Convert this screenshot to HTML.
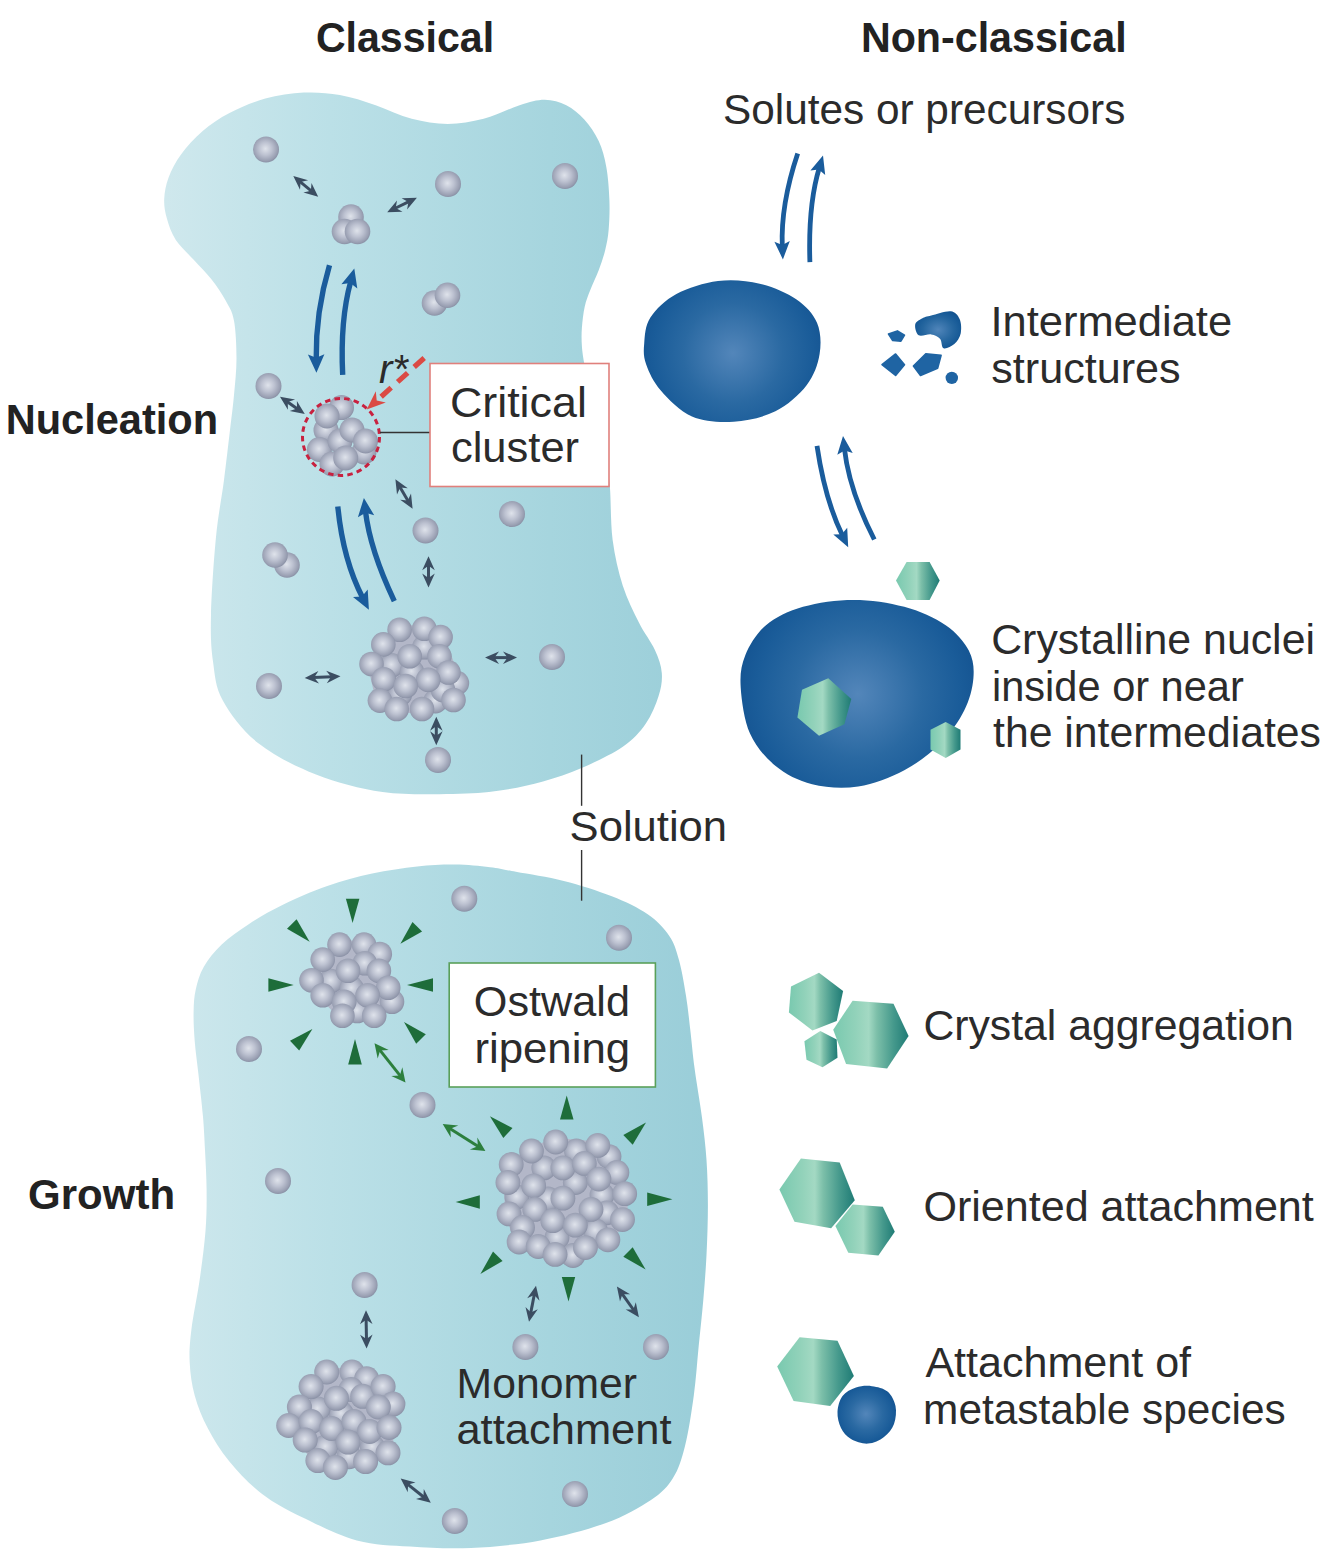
<!DOCTYPE html>
<html><head><meta charset="utf-8"><title>Nucleation and growth</title>
<style>
html,body{margin:0;padding:0;background:#fff;}
body{width:1335px;height:1564px;overflow:hidden;}
svg{display:block;}
svg text{font-family:"Liberation Sans",sans-serif;fill:#2b2b2b;}
svg text[font-weight]{fill:#222;}
</style></head><body>
<svg width="1335" height="1564" viewBox="0 0 1335 1564">
<defs>
<linearGradient id="sol" gradientUnits="userSpaceOnUse" x1="165" y1="0" x2="715" y2="0">
<stop offset="0" stop-color="#cfe8ed"/><stop offset="0.3" stop-color="#bbe0e7"/><stop offset="0.7" stop-color="#a6d5de"/><stop offset="1" stop-color="#99cdd8"/></linearGradient>
<radialGradient id="sp" cx="0.48" cy="0.47" r="0.55">
<stop offset="0" stop-color="#dfe3eb"/><stop offset="0.45" stop-color="#bdc2d1"/><stop offset="0.85" stop-color="#999fb2"/><stop offset="1" stop-color="#858ca1"/></radialGradient>
<radialGradient id="bl" cx="0.5" cy="0.5" r="0.6">
<stop offset="0" stop-color="#5085ba"/><stop offset="0.55" stop-color="#25669f"/><stop offset="0.8" stop-color="#175a97"/><stop offset="1" stop-color="#12508c"/></radialGradient>
<radialGradient id="bl1" gradientUnits="userSpaceOnUse" cx="733" cy="353" r="100"><stop offset="0" stop-color="#5386ba"/><stop offset="0.5" stop-color="#2a69a2"/><stop offset="0.8" stop-color="#1a5c99"/><stop offset="1" stop-color="#135290"/></radialGradient>
<radialGradient id="bl2" gradientUnits="userSpaceOnUse" cx="858" cy="694" r="128"><stop offset="0" stop-color="#5386ba"/><stop offset="0.5" stop-color="#2a69a2"/><stop offset="0.8" stop-color="#1a5c99"/><stop offset="1" stop-color="#135290"/></radialGradient>
<radialGradient id="bl3" gradientUnits="userSpaceOnUse" cx="866" cy="1414" r="33"><stop offset="0" stop-color="#5386ba"/><stop offset="0.5" stop-color="#2a69a2"/><stop offset="0.8" stop-color="#1a5c99"/><stop offset="1" stop-color="#135290"/></radialGradient>
<linearGradient id="hx" x1="0" y1="0" x2="1" y2="0">
<stop offset="0" stop-color="#79c9af"/><stop offset="0.3" stop-color="#92d2ba"/><stop offset="0.47" stop-color="#a3d9c3"/><stop offset="0.58" stop-color="#7cbfa9"/><stop offset="0.8" stop-color="#45998c"/><stop offset="1" stop-color="#1f7b75"/></linearGradient>
</defs>
<path d="M168.6 177.4 C171.4 169.9 175.5 161.9 181.2 154.2 C186.9 146.4 194.6 137.8 202.7 130.9 C210.8 124.0 219.1 118.4 229.5 113.0 C239.9 107.6 252.9 102.0 265.3 98.6 C277.7 95.2 291.4 93.2 303.8 92.6 C316.2 92.0 327.8 93.0 339.8 95.1 C351.8 97.2 363.7 101.2 375.7 105.2 C387.7 109.2 399.7 115.7 411.7 118.8 C423.7 121.9 435.7 123.9 447.7 123.9 C459.7 123.9 471.6 121.9 483.6 118.8 C495.6 115.7 509.4 108.4 519.6 105.2 C529.8 102.0 536.9 99.8 544.7 99.8 C552.5 99.8 559.7 101.9 566.3 105.2 C572.9 108.5 578.9 113.6 584.3 119.6 C589.7 125.6 595.0 133.2 598.7 141.1 C602.4 149.0 604.5 157.2 606.3 167.0 C608.1 176.8 609.0 189.6 609.4 200.0 C609.8 210.4 609.4 220.9 608.7 229.3 C608.0 237.7 606.8 243.6 605.1 250.4 C603.5 257.2 601.2 263.5 598.8 270.1 C596.3 276.7 592.8 283.7 590.4 289.8 C588.0 295.9 586.1 300.4 584.7 306.7 C583.3 313.0 582.4 321.2 581.9 327.8 C581.4 334.4 581.5 339.9 581.9 346.1 C582.3 352.3 583.1 356.9 584.5 365.0 C585.9 373.1 587.8 384.2 590.0 395.0 C592.2 405.8 595.3 418.8 598.0 430.0 C600.7 441.2 604.0 452.5 606.0 462.0 C608.0 471.5 608.8 474.0 609.9 487.0 C611.0 500.0 610.5 523.3 612.6 539.8 C614.8 556.2 618.4 571.9 622.8 585.7 C627.2 599.5 633.5 611.8 638.9 622.5 C644.2 633.2 651.1 641.6 654.9 650.0 C658.7 658.4 661.2 665.3 661.8 673.0 C662.4 680.7 661.3 687.5 658.6 696.0 C655.9 704.5 651.7 715.2 645.7 723.7 C639.7 732.2 633.5 739.3 622.8 746.7 C612.1 754.1 594.9 762.2 581.6 768.0 C568.3 773.8 556.6 777.7 543.0 781.5 C529.4 785.3 515.0 788.5 500.0 790.6 C484.9 792.7 472.3 793.8 452.7 794.0 C433.1 794.2 405.4 795.2 382.6 792.0 C359.8 788.8 336.8 782.7 316.0 774.5 C295.2 766.3 273.5 755.3 258.0 743.0 C242.5 730.7 230.3 714.1 222.8 700.5 C215.3 686.9 215.0 675.8 213.0 661.5 C211.0 647.2 210.5 635.8 211.0 615.0 C211.5 594.2 213.8 559.5 216.0 537.0 C218.2 514.5 221.7 497.8 224.0 480.0 C226.3 462.2 228.3 444.2 230.0 430.0 C231.7 415.8 232.9 406.9 234.0 395.0 C235.1 383.1 236.5 370.8 236.5 358.4 C236.5 346.0 235.8 330.3 234.0 320.7 C232.2 311.1 229.6 307.9 225.9 301.0 C222.2 294.1 217.0 286.4 211.6 279.5 C206.2 272.6 199.7 266.4 193.7 259.8 C187.7 253.2 180.3 246.9 175.8 240.0 C171.3 233.1 168.8 225.4 166.9 218.6 C165.0 211.8 163.9 205.8 164.2 198.9 C164.5 192.0 165.8 184.9 168.6 177.4Z" fill="url(#sol)"/>
<path d="M195.8 989.3 C197.5 981.8 199.4 974.4 203.7 966.9 C208.0 959.4 214.2 951.5 221.7 944.4 C229.2 937.3 238.6 930.8 248.7 924.2 C258.8 917.6 269.3 911.4 282.4 905.0 C295.5 898.6 312.3 891.2 327.3 886.0 C342.3 880.8 357.2 876.9 372.2 873.6 C387.2 870.4 403.4 868.0 417.2 866.5 C431.0 865.0 442.9 864.5 455.0 864.6 C467.1 864.7 479.9 866.0 490.0 867.2 C500.1 868.4 503.6 869.5 515.9 871.8 C528.2 874.1 547.8 876.9 563.8 881.0 C579.8 885.1 597.8 890.8 611.8 896.3 C625.8 901.8 638.1 907.7 647.7 914.3 C657.3 920.9 664.1 928.3 669.3 935.9 C674.5 943.5 676.1 949.8 678.9 959.8 C681.7 969.8 684.1 983.8 686.0 995.8 C687.9 1007.8 689.1 1019.8 690.5 1031.8 C691.9 1043.8 692.6 1053.4 694.5 1067.7 C696.4 1082.0 700.0 1102.4 702.0 1117.8 C704.0 1133.2 705.5 1145.5 706.5 1160.0 C707.5 1174.5 707.9 1189.2 707.9 1205.0 C707.9 1220.8 707.3 1239.2 706.5 1255.0 C705.7 1270.8 704.6 1284.8 703.3 1300.0 C702.0 1315.2 700.3 1330.1 698.7 1346.0 C697.1 1361.9 696.1 1378.7 693.8 1395.4 C691.5 1412.1 688.5 1432.2 685.0 1446.0 C681.5 1459.8 678.7 1469.0 673.0 1478.0 C667.3 1487.0 662.2 1492.5 651.0 1500.0 C639.8 1507.5 624.4 1516.3 606.0 1523.0 C587.6 1529.7 562.9 1536.2 540.4 1540.4 C517.9 1544.6 492.7 1547.0 471.0 1548.0 C449.3 1549.0 429.0 1547.8 410.0 1546.5 C391.0 1545.2 374.9 1545.3 356.8 1540.4 C338.7 1535.5 317.4 1524.7 301.6 1517.0 C285.8 1509.3 274.2 1503.3 262.1 1494.0 C250.0 1484.7 238.2 1472.2 229.2 1461.2 C220.1 1450.2 213.6 1439.3 207.8 1428.3 C202.1 1417.3 197.7 1406.4 194.7 1395.4 C191.7 1384.4 190.2 1373.5 189.7 1362.5 C189.1 1351.5 189.8 1343.3 191.4 1329.6 C193.1 1315.9 197.2 1296.8 199.6 1280.3 C201.9 1263.8 204.3 1246.0 205.5 1230.9 C206.7 1215.9 206.7 1203.5 206.6 1190.0 C206.5 1176.5 205.6 1162.4 205.0 1150.0 C204.4 1137.6 204.0 1128.3 202.9 1115.8 C201.8 1103.2 199.9 1087.2 198.5 1074.7 C197.1 1062.2 195.5 1051.5 194.7 1041.0 C193.9 1030.5 193.4 1020.4 193.6 1011.8 C193.8 1003.2 194.1 996.8 195.8 989.3Z" fill="url(#sol)"/>
<circle cx="266.0" cy="149.5" r="13.0" fill="url(#sp)"/>
<circle cx="448.0" cy="184.0" r="13.0" fill="url(#sp)"/>
<circle cx="565.0" cy="176.0" r="13.0" fill="url(#sp)"/>
<circle cx="268.5" cy="386.0" r="13.0" fill="url(#sp)"/>
<circle cx="425.5" cy="530.5" r="13.0" fill="url(#sp)"/>
<circle cx="512.0" cy="514.0" r="13.0" fill="url(#sp)"/>
<circle cx="269.0" cy="686.0" r="13.0" fill="url(#sp)"/>
<circle cx="552.0" cy="657.0" r="13.0" fill="url(#sp)"/>
<circle cx="438.0" cy="760.0" r="13.0" fill="url(#sp)"/>
<circle cx="464.3" cy="898.7" r="13.0" fill="url(#sp)"/>
<circle cx="619.0" cy="937.8" r="13.0" fill="url(#sp)"/>
<circle cx="249.0" cy="1049.0" r="13.0" fill="url(#sp)"/>
<circle cx="422.5" cy="1105.0" r="13.0" fill="url(#sp)"/>
<circle cx="278.0" cy="1181.0" r="13.0" fill="url(#sp)"/>
<circle cx="364.6" cy="1285.0" r="13.0" fill="url(#sp)"/>
<circle cx="525.4" cy="1347.0" r="13.0" fill="url(#sp)"/>
<circle cx="656.0" cy="1347.0" r="13.0" fill="url(#sp)"/>
<circle cx="575.0" cy="1494.0" r="13.0" fill="url(#sp)"/>
<circle cx="454.8" cy="1521.0" r="13.0" fill="url(#sp)"/>
<circle cx="351.0" cy="217.0" r="12.8" fill="url(#sp)"/>
<circle cx="344.5" cy="231.5" r="12.8" fill="url(#sp)"/>
<circle cx="357.5" cy="231.5" r="12.8" fill="url(#sp)"/>
<circle cx="434.5" cy="303.0" r="12.8" fill="url(#sp)"/>
<circle cx="447.5" cy="295.3" r="12.8" fill="url(#sp)"/>
<circle cx="287.0" cy="565.0" r="12.8" fill="url(#sp)"/>
<circle cx="275.0" cy="555.0" r="12.8" fill="url(#sp)"/>
<circle cx="341.5" cy="407.6" r="12.5" fill="url(#sp)"/>
<circle cx="326.0" cy="430.0" r="12.5" fill="url(#sp)"/>
<circle cx="364.0" cy="452.0" r="12.5" fill="url(#sp)"/>
<circle cx="319.4" cy="449.5" r="12.5" fill="url(#sp)"/>
<circle cx="340.0" cy="441.0" r="12.5" fill="url(#sp)"/>
<circle cx="332.0" cy="464.0" r="12.5" fill="url(#sp)"/>
<circle cx="352.0" cy="430.0" r="12.5" fill="url(#sp)"/>
<circle cx="327.0" cy="416.0" r="12.5" fill="url(#sp)"/>
<circle cx="365.5" cy="441.0" r="12.5" fill="url(#sp)"/>
<circle cx="345.7" cy="458.0" r="12.5" fill="url(#sp)"/>
<path d="M371.5 664.0 L383.3 644.4 L399.6 629.8 L424.3 628.7 L440.6 637.1 L456.9 683.1 L453.5 700.0 L422.0 709.0 L396.7 709.0 L379.9 700.6Z" fill="#b3b7c8" stroke="#b3b7c8" stroke-width="8" stroke-linejoin="round"/>
<circle cx="391.7" cy="665.2" r="12.3" fill="url(#sp)"/>
<circle cx="456.9" cy="683.1" r="12.3" fill="url(#sp)"/>
<circle cx="411.9" cy="671.9" r="12.3" fill="url(#sp)"/>
<circle cx="435.5" cy="701.1" r="12.3" fill="url(#sp)"/>
<circle cx="400.0" cy="694.0" r="12.3" fill="url(#sp)"/>
<circle cx="424.3" cy="647.2" r="12.3" fill="url(#sp)"/>
<circle cx="443.0" cy="690.0" r="12.3" fill="url(#sp)"/>
<circle cx="424.3" cy="628.7" r="12.3" fill="url(#sp)"/>
<circle cx="399.6" cy="629.8" r="12.3" fill="url(#sp)"/>
<circle cx="440.6" cy="637.1" r="12.3" fill="url(#sp)"/>
<circle cx="383.3" cy="644.4" r="12.3" fill="url(#sp)"/>
<circle cx="371.5" cy="664.0" r="12.3" fill="url(#sp)"/>
<circle cx="439.4" cy="656.2" r="12.3" fill="url(#sp)"/>
<circle cx="409.7" cy="656.2" r="12.3" fill="url(#sp)"/>
<circle cx="448.4" cy="672.5" r="12.3" fill="url(#sp)"/>
<circle cx="428.2" cy="679.8" r="12.3" fill="url(#sp)"/>
<circle cx="383.8" cy="679.2" r="12.3" fill="url(#sp)"/>
<circle cx="405.7" cy="686.0" r="12.3" fill="url(#sp)"/>
<circle cx="379.9" cy="700.6" r="12.3" fill="url(#sp)"/>
<circle cx="453.5" cy="700.0" r="12.3" fill="url(#sp)"/>
<circle cx="422.0" cy="709.0" r="12.3" fill="url(#sp)"/>
<circle cx="396.7" cy="709.0" r="12.3" fill="url(#sp)"/>
<path d="M311.5 980.2 L322.7 959.6 L339.5 944.6 L364.0 944.6 L379.8 954.0 L392.0 1001.7 L374.2 1015.8 L342.4 1015.8 L322.7 995.2Z" fill="#b3b7c8" stroke="#b3b7c8" stroke-width="8" stroke-linejoin="round"/>
<circle cx="357.3" cy="1011.0" r="12.3" fill="url(#sp)"/>
<circle cx="331.0" cy="981.0" r="12.3" fill="url(#sp)"/>
<circle cx="351.7" cy="988.6" r="12.3" fill="url(#sp)"/>
<circle cx="392.0" cy="1001.7" r="12.3" fill="url(#sp)"/>
<circle cx="339.5" cy="944.6" r="12.3" fill="url(#sp)"/>
<circle cx="364.0" cy="944.6" r="12.3" fill="url(#sp)"/>
<circle cx="379.8" cy="954.0" r="12.3" fill="url(#sp)"/>
<circle cx="322.7" cy="959.6" r="12.3" fill="url(#sp)"/>
<circle cx="364.8" cy="963.3" r="12.3" fill="url(#sp)"/>
<circle cx="348.0" cy="970.8" r="12.3" fill="url(#sp)"/>
<circle cx="378.9" cy="970.8" r="12.3" fill="url(#sp)"/>
<circle cx="311.5" cy="980.2" r="12.3" fill="url(#sp)"/>
<circle cx="388.2" cy="987.7" r="12.3" fill="url(#sp)"/>
<circle cx="322.7" cy="995.2" r="12.3" fill="url(#sp)"/>
<circle cx="367.6" cy="995.2" r="12.3" fill="url(#sp)"/>
<circle cx="344.2" cy="1001.7" r="12.3" fill="url(#sp)"/>
<circle cx="342.4" cy="1015.8" r="12.3" fill="url(#sp)"/>
<circle cx="374.2" cy="1015.8" r="12.3" fill="url(#sp)"/>
<path d="M507.9 1182.5 L511.2 1164.5 L531.5 1151.0 L555.7 1142.0 L597.8 1145.4 L609.0 1156.6 L616.9 1172.4 L624.7 1193.7 L622.5 1219.6 L607.9 1239.8 L573.0 1255.5 L555.1 1254.4 L519.1 1242.0 L509.0 1213.9Z" fill="#b3b7c8" stroke="#b3b7c8" stroke-width="8" stroke-linejoin="round"/>
<circle cx="576.4" cy="1151.0" r="12.4" fill="url(#sp)"/>
<circle cx="609.0" cy="1156.6" r="12.4" fill="url(#sp)"/>
<circle cx="543.8" cy="1167.9" r="12.4" fill="url(#sp)"/>
<circle cx="575.3" cy="1182.5" r="12.4" fill="url(#sp)"/>
<circle cx="602.0" cy="1195.0" r="12.4" fill="url(#sp)"/>
<circle cx="548.0" cy="1199.0" r="12.4" fill="url(#sp)"/>
<circle cx="606.7" cy="1212.8" r="12.4" fill="url(#sp)"/>
<circle cx="595.5" cy="1230.8" r="12.4" fill="url(#sp)"/>
<circle cx="557.0" cy="1237.5" r="12.4" fill="url(#sp)"/>
<circle cx="573.0" cy="1255.5" r="12.4" fill="url(#sp)"/>
<circle cx="516.9" cy="1197.0" r="12.4" fill="url(#sp)"/>
<circle cx="555.7" cy="1142.0" r="12.4" fill="url(#sp)"/>
<circle cx="597.8" cy="1145.4" r="12.4" fill="url(#sp)"/>
<circle cx="531.5" cy="1151.0" r="12.4" fill="url(#sp)"/>
<circle cx="511.2" cy="1164.5" r="12.4" fill="url(#sp)"/>
<circle cx="562.9" cy="1167.9" r="12.4" fill="url(#sp)"/>
<circle cx="584.3" cy="1163.4" r="12.4" fill="url(#sp)"/>
<circle cx="616.9" cy="1172.4" r="12.4" fill="url(#sp)"/>
<circle cx="598.9" cy="1179.1" r="12.4" fill="url(#sp)"/>
<circle cx="533.7" cy="1185.8" r="12.4" fill="url(#sp)"/>
<circle cx="507.9" cy="1182.5" r="12.4" fill="url(#sp)"/>
<circle cx="624.7" cy="1193.7" r="12.4" fill="url(#sp)"/>
<circle cx="562.9" cy="1198.2" r="12.4" fill="url(#sp)"/>
<circle cx="534.8" cy="1209.4" r="12.4" fill="url(#sp)"/>
<circle cx="591.0" cy="1209.4" r="12.4" fill="url(#sp)"/>
<circle cx="509.0" cy="1213.9" r="12.4" fill="url(#sp)"/>
<circle cx="622.5" cy="1219.6" r="12.4" fill="url(#sp)"/>
<circle cx="552.8" cy="1220.7" r="12.4" fill="url(#sp)"/>
<circle cx="575.3" cy="1225.2" r="12.4" fill="url(#sp)"/>
<circle cx="522.5" cy="1227.4" r="12.4" fill="url(#sp)"/>
<circle cx="607.9" cy="1239.8" r="12.4" fill="url(#sp)"/>
<circle cx="519.1" cy="1242.0" r="12.4" fill="url(#sp)"/>
<circle cx="538.2" cy="1246.5" r="12.4" fill="url(#sp)"/>
<circle cx="585.4" cy="1247.6" r="12.4" fill="url(#sp)"/>
<circle cx="555.1" cy="1254.4" r="12.4" fill="url(#sp)"/>
<path d="M288.7 1425.5 L311.1 1386.6 L326.7 1372.0 L352.0 1372.0 L366.6 1378.8 L383.1 1386.6 L392.9 1404.1 L388.0 1452.8 L365.6 1461.6 L335.4 1467.4 L317.9 1460.6Z" fill="#b3b7c8" stroke="#b3b7c8" stroke-width="8" stroke-linejoin="round"/>
<circle cx="325.7" cy="1447.0" r="12.5" fill="url(#sp)"/>
<circle cx="349.0" cy="1456.7" r="12.5" fill="url(#sp)"/>
<circle cx="341.3" cy="1413.8" r="12.5" fill="url(#sp)"/>
<circle cx="372.4" cy="1447.0" r="12.5" fill="url(#sp)"/>
<circle cx="352.0" cy="1372.0" r="12.5" fill="url(#sp)"/>
<circle cx="366.6" cy="1378.8" r="12.5" fill="url(#sp)"/>
<circle cx="351.0" cy="1389.5" r="12.5" fill="url(#sp)"/>
<circle cx="362.7" cy="1396.3" r="12.5" fill="url(#sp)"/>
<circle cx="317.9" cy="1409.0" r="12.5" fill="url(#sp)"/>
<circle cx="326.7" cy="1372.0" r="12.5" fill="url(#sp)"/>
<circle cx="311.1" cy="1386.6" r="12.5" fill="url(#sp)"/>
<circle cx="383.1" cy="1386.6" r="12.5" fill="url(#sp)"/>
<circle cx="336.4" cy="1398.3" r="12.5" fill="url(#sp)"/>
<circle cx="392.9" cy="1404.1" r="12.5" fill="url(#sp)"/>
<circle cx="299.4" cy="1407.0" r="12.5" fill="url(#sp)"/>
<circle cx="378.3" cy="1407.0" r="12.5" fill="url(#sp)"/>
<circle cx="288.7" cy="1425.5" r="12.5" fill="url(#sp)"/>
<circle cx="311.1" cy="1421.6" r="12.5" fill="url(#sp)"/>
<circle cx="331.5" cy="1428.5" r="12.5" fill="url(#sp)"/>
<circle cx="353.9" cy="1421.6" r="12.5" fill="url(#sp)"/>
<circle cx="369.5" cy="1431.4" r="12.5" fill="url(#sp)"/>
<circle cx="389.0" cy="1427.5" r="12.5" fill="url(#sp)"/>
<circle cx="305.2" cy="1440.1" r="12.5" fill="url(#sp)"/>
<circle cx="348.1" cy="1442.1" r="12.5" fill="url(#sp)"/>
<circle cx="388.0" cy="1452.8" r="12.5" fill="url(#sp)"/>
<circle cx="317.9" cy="1460.6" r="12.5" fill="url(#sp)"/>
<circle cx="335.4" cy="1467.4" r="12.5" fill="url(#sp)"/>
<circle cx="365.6" cy="1461.6" r="12.5" fill="url(#sp)"/>
<circle cx="341" cy="437" r="38.5" fill="none" stroke="#c8213f" stroke-width="3" stroke-dasharray="5.5 4.2"/>
<line x1="380" y1="432.5" x2="430" y2="432.5" stroke="#333" stroke-width="1.4"/>
<line x1="299.7" y1="181.4" x2="311.8" y2="191.4" stroke="#3b4d61" stroke-width="3.0"/>
<path d="M293.3 176.0 L300.0 189.8 L300.6 182.1 L308.1 180.2Z" fill="#3b4d61"/>
<path d="M318.2 196.8 L303.4 192.6 L310.9 190.7 L311.5 183.0Z" fill="#3b4d61"/>
<line x1="394.7" y1="208.5" x2="409.4" y2="201.4" stroke="#3b4d61" stroke-width="3.0"/>
<path d="M387.2 212.2 L402.5 211.7 L395.7 208.0 L397.0 200.4Z" fill="#3b4d61"/>
<path d="M416.9 197.7 L407.1 209.5 L408.4 201.9 L401.6 198.2Z" fill="#3b4d61"/>
<line x1="286.9" y1="401.5" x2="297.9" y2="409.2" stroke="#3b4d61" stroke-width="3.0"/>
<path d="M280.0 396.7 L287.9 409.8 L287.8 402.1 L295.1 399.6Z" fill="#3b4d61"/>
<path d="M304.8 414.0 L289.7 411.1 L297.0 408.6 L296.9 400.9Z" fill="#3b4d61"/>
<line x1="399.6" y1="486.5" x2="408.4" y2="501.5" stroke="#3b4d61" stroke-width="3.0"/>
<path d="M395.4 479.2 L397.0 494.4 L400.2 487.4 L407.8 488.2Z" fill="#3b4d61"/>
<path d="M412.6 508.8 L400.2 499.8 L407.8 500.6 L411.0 493.6Z" fill="#3b4d61"/>
<line x1="428.5" y1="564.7" x2="428.5" y2="579.1" stroke="#3b4d61" stroke-width="3.0"/>
<path d="M428.5 556.3 L422.2 570.3 L428.5 565.8 L434.8 570.3Z" fill="#3b4d61"/>
<path d="M428.5 587.5 L422.2 573.5 L428.5 578.0 L434.8 573.5Z" fill="#3b4d61"/>
<line x1="313.1" y1="677.5" x2="332.1" y2="676.7" stroke="#3b4d61" stroke-width="3.0"/>
<path d="M304.7 677.9 L319.0 683.5 L314.2 677.5 L318.4 671.0Z" fill="#3b4d61"/>
<path d="M340.5 676.3 L326.8 683.2 L331.0 676.7 L326.2 670.7Z" fill="#3b4d61"/>
<line x1="493.4" y1="657.6" x2="508.6" y2="657.6" stroke="#3b4d61" stroke-width="3.0"/>
<path d="M485.0 657.6 L499.0 663.9 L494.5 657.6 L499.0 651.4Z" fill="#3b4d61"/>
<path d="M517.0 657.6 L503.0 663.9 L507.5 657.6 L503.0 651.4Z" fill="#3b4d61"/>
<line x1="436.3" y1="725.2" x2="436.3" y2="736.9" stroke="#3b4d61" stroke-width="3.0"/>
<path d="M436.3 716.8 L430.1 730.8 L436.3 726.3 L442.6 730.8Z" fill="#3b4d61"/>
<path d="M436.3 745.3 L430.1 731.3 L436.3 735.8 L442.6 731.3Z" fill="#3b4d61"/>
<line x1="534.4" y1="1294.0" x2="530.6" y2="1313.6" stroke="#3b4d61" stroke-width="3.0"/>
<path d="M536.0 1285.8 L527.2 1298.3 L534.2 1295.1 L539.5 1300.7Z" fill="#3b4d61"/>
<path d="M529.0 1321.8 L525.5 1306.9 L530.8 1312.5 L537.8 1309.3Z" fill="#3b4d61"/>
<line x1="621.8" y1="1293.3" x2="634.0" y2="1310.5" stroke="#3b4d61" stroke-width="3.0"/>
<path d="M616.9 1286.5 L620.0 1301.5 L622.4 1294.2 L630.1 1294.3Z" fill="#3b4d61"/>
<path d="M638.9 1317.3 L625.7 1309.5 L633.4 1309.6 L635.8 1302.3Z" fill="#3b4d61"/>
<line x1="366.1" y1="1318.6" x2="366.5" y2="1340.2" stroke="#3b4d61" stroke-width="3.0"/>
<path d="M366.0 1310.2 L360.0 1324.3 L366.1 1319.7 L372.5 1324.1Z" fill="#3b4d61"/>
<path d="M366.6 1348.6 L360.1 1334.7 L366.5 1339.1 L372.6 1334.5Z" fill="#3b4d61"/>
<line x1="407.2" y1="1483.8" x2="424.3" y2="1497.5" stroke="#3b4d61" stroke-width="3.0"/>
<path d="M400.7 1478.5 L407.7 1492.2 L408.1 1484.5 L415.5 1482.4Z" fill="#3b4d61"/>
<path d="M430.8 1502.8 L416.0 1498.9 L423.4 1496.8 L423.8 1489.1Z" fill="#3b4d61"/>
<line x1="379.7" y1="1049.9" x2="400.3" y2="1075.9" stroke="#2c7f3d" stroke-width="3.0"/>
<path d="M374.5 1043.3 L377.7 1058.6 L380.1 1050.4 L388.7 1049.9Z" fill="#2c7f3d"/>
<path d="M405.5 1082.5 L391.3 1075.9 L399.9 1075.4 L402.3 1067.2Z" fill="#2c7f3d"/>
<line x1="449.8" y1="1128.5" x2="478.3" y2="1146.5" stroke="#2c7f3d" stroke-width="3.0"/>
<path d="M442.7 1124.0 L450.8 1137.4 L450.3 1128.8 L458.3 1125.6Z" fill="#2c7f3d"/>
<path d="M485.4 1151.0 L469.8 1149.4 L477.8 1146.2 L477.3 1137.6Z" fill="#2c7f3d"/>
<path d="M352.6 923.0 L359.4 898.7 L345.9 898.7Z" fill="#1e6d3a"/>
<path d="M293.7 985.0 L268.4 978.2 L268.4 991.8Z" fill="#1e6d3a"/>
<path d="M407.0 985.0 L433.0 991.8 L433.0 978.2Z" fill="#1e6d3a"/>
<path d="M355.0 1039.0 L348.2 1064.5 L361.8 1064.5Z" fill="#1e6d3a"/>
<path d="M309.6 941.8 L296.6 919.2 L287.0 928.8Z" fill="#1e6d3a"/>
<path d="M400.4 943.7 L422.1 931.6 L412.5 922.0Z" fill="#1e6d3a"/>
<path d="M404.0 1022.0 L416.2 1043.8 L425.8 1034.2Z" fill="#1e6d3a"/>
<path d="M312.4 1028.9 L290.0 1040.8 L299.2 1050.6Z" fill="#1e6d3a"/>
<path d="M566.7 1095.5 L560.0 1119.6 L573.5 1119.6Z" fill="#1e6d3a"/>
<path d="M568.5 1301.6 L575.2 1276.9 L561.8 1276.9Z" fill="#1e6d3a"/>
<path d="M455.7 1202.0 L479.8 1208.8 L479.8 1195.2Z" fill="#1e6d3a"/>
<path d="M672.4 1199.3 L647.2 1192.5 L647.2 1206.0Z" fill="#1e6d3a"/>
<path d="M489.9 1116.2 L503.3 1137.9 L512.5 1128.1Z" fill="#1e6d3a"/>
<path d="M646.0 1122.5 L623.3 1134.9 L632.7 1144.7Z" fill="#1e6d3a"/>
<path d="M480.4 1273.9 L502.6 1260.9 L493.0 1251.5Z" fill="#1e6d3a"/>
<path d="M645.6 1269.4 L632.7 1247.2 L623.3 1256.8Z" fill="#1e6d3a"/>
<path d="M329.5 265.2 Q315.5 312.0 316.2 359.9" fill="none" stroke="#1a5c9c" stroke-width="5.4"/>
<path d="M316.4 372.8 L307.9 354.4 L316.2 357.8 L324.4 354.2Z" fill="#1a5c9c"/>
<path d="M342.7 374.9 Q340.0 320.0 350.8 281.1" fill="none" stroke="#1a5c9c" stroke-width="5.4"/>
<path d="M354.3 268.6 L357.3 288.6 L350.3 283.1 L341.4 284.2Z" fill="#1a5c9c"/>
<path d="M337.8 506.5 Q343.0 560.0 362.9 598.2" fill="none" stroke="#1a5c9c" stroke-width="5.4"/>
<path d="M368.9 609.7 L353.0 597.1 L362.0 596.4 L367.7 589.5Z" fill="#1a5c9c"/>
<path d="M394.3 601.1 Q370.0 550.0 365.4 510.8" fill="none" stroke="#1a5c9c" stroke-width="5.4"/>
<path d="M363.9 497.9 L374.2 515.3 L365.6 512.8 L357.9 517.2Z" fill="#1a5c9c"/>
<path d="M797.7 153.6 Q780.5 205.0 782.3 246.8" fill="none" stroke="#1a5c9c" stroke-width="4.8"/>
<path d="M782.9 259.4 L774.4 241.8 L782.3 244.9 L789.8 241.1Z" fill="#1a5c9c"/>
<path d="M809.9 262.1 Q808.0 205.0 819.3 167.7" fill="none" stroke="#1a5c9c" stroke-width="4.8"/>
<path d="M823.0 155.6 L825.2 175.1 L818.8 169.5 L810.4 170.6Z" fill="#1a5c9c"/>
<path d="M817.0 445.8 Q825.0 500.0 842.7 536.0" fill="none" stroke="#1a5c9c" stroke-width="4.8"/>
<path d="M848.2 547.3 L833.3 534.6 L841.8 534.3 L847.2 527.7Z" fill="#1a5c9c"/>
<path d="M874.3 539.5 Q849.0 490.0 844.4 448.5" fill="none" stroke="#1a5c9c" stroke-width="4.8"/>
<path d="M843.0 436.0 L852.7 453.0 L844.6 450.4 L837.3 454.7Z" fill="#1a5c9c"/>
<line x1="424.2" y1="358" x2="378" y2="399.5" stroke="#db4a44" stroke-width="5.2" stroke-dasharray="13.5 8.7"/>
<path d="M366.7 409.5 L375.8 391.2 L376.7 400.5 L385.8 402.4Z" fill="#db4a44"/>
<rect x="430" y="363.5" width="179" height="123" fill="#fff" stroke="#e0807c" stroke-width="1.6"/>
<rect x="449.2" y="963" width="206.2" height="124" fill="#fff" stroke="#5aa05a" stroke-width="1.6"/>
<line x1="581.6" y1="754.6" x2="581.6" y2="805.8" stroke="#333" stroke-width="1.4"/>
<line x1="581.6" y1="850" x2="581.6" y2="900.7" stroke="#333" stroke-width="1.4"/>
<path d="M644.2 343.6 C644.9 335.8 645.0 325.9 650.4 317.6 C655.8 309.4 665.1 300.2 676.4 294.1 C687.7 288.0 704.1 282.7 718.0 281.0 C731.9 279.3 746.7 280.6 759.7 283.7 C772.7 286.8 786.7 292.8 796.2 299.3 C805.8 305.8 813.1 313.7 817.0 322.8 C820.9 331.9 821.3 343.6 819.6 354.0 C817.9 364.4 814.0 375.6 806.6 385.2 C799.2 394.8 787.5 405.2 775.4 411.3 C763.2 417.4 747.6 420.8 733.7 421.7 C719.8 422.6 704.1 421.7 692.0 416.5 C679.9 411.3 668.4 399.1 660.8 390.4 C653.2 381.7 649.0 372.2 646.2 364.4 C643.4 356.6 643.5 351.4 644.2 343.6Z" fill="url(#bl1)"/>
<path d="M740.7 687.4 C739.9 674.4 741.1 665.6 745.3 655.2 C749.5 644.8 756.4 633.3 766.0 625.2 C775.6 617.1 788.4 611.0 803.0 606.8 C817.6 602.6 836.7 599.9 853.6 599.9 C870.5 599.9 888.9 602.6 904.3 606.8 C919.6 611.0 935.0 617.9 945.7 625.2 C956.5 632.5 964.2 641.8 968.8 650.6 C973.4 659.4 974.2 668.2 973.4 678.2 C972.6 688.2 969.6 699.8 964.2 710.5 C958.8 721.2 951.1 732.7 941.1 742.7 C931.1 752.7 918.1 763.0 904.3 770.3 C890.5 777.6 873.6 784.2 858.2 786.5 C842.8 788.8 825.9 787.7 812.1 784.2 C798.3 780.7 785.6 774.2 775.3 765.7 C764.9 757.2 755.8 746.5 750.0 733.5 C744.2 720.5 741.5 700.4 740.7 687.4Z" fill="url(#bl2)"/>
<path d="M837.5 1412.0 C837.8 1406.7 839.4 1400.1 842.5 1396.0 C845.6 1391.9 851.1 1389.1 856.0 1387.5 C860.9 1385.9 866.8 1385.5 872.0 1386.2 C877.2 1386.9 883.6 1388.2 887.5 1391.5 C891.4 1394.8 894.4 1400.6 895.5 1406.0 C896.6 1411.4 895.9 1418.8 894.0 1424.0 C892.1 1429.2 888.3 1433.7 884.0 1437.0 C879.7 1440.3 873.5 1443.3 868.0 1443.6 C862.5 1443.9 855.5 1441.6 851.0 1439.0 C846.5 1436.4 843.2 1432.5 841.0 1428.0 C838.8 1423.5 837.2 1417.3 837.5 1412.0Z" fill="url(#bl3)"/>
<path d="M915.2 324.5 C915.8 321.7 919.3 320.0 922.0 318.5 C924.7 317.0 926.4 316.8 931.2 315.6 C936.0 314.4 946.0 310.7 950.7 311.3 C955.4 311.9 957.9 315.4 959.6 319.1 C961.3 322.8 961.6 329.2 960.7 333.4 C959.8 337.5 957.1 341.5 954.3 344.0 C951.4 346.5 946.0 349.2 943.6 348.3 C941.2 347.4 942.1 341.0 940.0 338.7 C937.9 336.4 934.8 335.0 931.2 334.4 C927.7 333.8 921.4 336.8 918.7 335.2 C916.0 333.6 914.7 327.3 915.2 324.5Z" fill="url(#bl)"/>
<path d="M888.5 334.0 L897.4 330.9 L904.5 335.2 L900.9 341.2 L892.7 340.5Z" fill="#1f64a3" stroke="#1f64a3" stroke-width="1.6" stroke-linejoin="round"/>
<path d="M882.0 364.7 L895.6 354.0 L904.5 364.7 L895.6 375.4Z" fill="#1f64a3" stroke="#1f64a3" stroke-width="1.6" stroke-linejoin="round"/>
<path d="M913.4 366.1 L925.8 353.7 L941.1 355.4 L937.6 368.2 L920.5 375.4Z" fill="#1f64a3" stroke="#1f64a3" stroke-width="1.6" stroke-linejoin="round"/>
<circle cx="951.8" cy="377.9" r="6.2" fill="#1f64a3"/>
<path d="M896.0 580.5 L906.6 562.1 L929.6 562.1 L939.7 580.5 L929.6 599.9 L906.6 599.9Z" fill="url(#hx)"/>
<path d="M828.3 678.2 L851.3 698.9 L844.4 724.3 L819.0 735.8 L797.4 717.4 L802.0 689.7Z" fill="url(#hx)"/>
<path d="M945.7 722.0 L960.5 729.8 L960.5 749.6 L945.7 757.9 L930.5 749.6 L930.5 729.8Z" fill="url(#hx)"/>
<path d="M819.0 972.8 L843.1 990.9 L836.7 1021.1 L812.5 1030.5 L788.9 1012.5 L791.0 986.6Z" fill="url(#hx)"/>
<path d="M833.2 1029.7 L852.6 1000.8 L893.5 1003.8 L908.6 1036.1 L887.1 1068.4 L846.1 1064.1Z" fill="url(#hx)"/>
<path d="M820.3 1031.0 L836.7 1039.6 L837.5 1057.7 L822.5 1067.2 L806.5 1059.8 L804.4 1041.3Z" fill="url(#hx)"/>
<path d="M779.4 1189.5 L800.9 1158.5 L839.7 1162.4 L854.8 1200.3 L831.1 1228.3 L794.5 1221.8Z" fill="url(#hx)"/>
<path d="M835.4 1226.1 L852.6 1204.6 L882.8 1206.8 L894.8 1231.7 L878.4 1255.4 L848.3 1252.8Z" fill="url(#hx)"/>
<path d="M777.2 1366.5 L799.6 1337.2 L837.5 1340.7 L853.9 1376.0 L830.2 1406.1 L793.6 1401.0Z" fill="url(#hx)"/>
<text x="315.9" y="52.4" font-size="42" font-weight="700" textLength="178.2" lengthAdjust="spacingAndGlyphs">Classical</text>
<text x="860.9" y="52.0" font-size="42" font-weight="700" textLength="265.7" lengthAdjust="spacingAndGlyphs">Non-classical</text>
<text x="5.7" y="433.8" font-size="42" font-weight="700" textLength="212.4" lengthAdjust="spacingAndGlyphs">Nucleation</text>
<text x="28.1" y="1209.0" font-size="42" font-weight="700" textLength="147.0" lengthAdjust="spacingAndGlyphs">Growth</text>
<text x="723.0" y="123.8" font-size="42" textLength="402.3" lengthAdjust="spacingAndGlyphs">Solutes or precursors</text>
<text x="990.4" y="336.2" font-size="42" textLength="241.7" lengthAdjust="spacingAndGlyphs">Intermediate</text>
<text x="991.2" y="382.5" font-size="42" textLength="189.5" lengthAdjust="spacingAndGlyphs">structures</text>
<text x="991.2" y="653.8" font-size="42" textLength="323.8" lengthAdjust="spacingAndGlyphs">Crystalline nuclei</text>
<text x="992.0" y="701.0" font-size="42" textLength="251.8" lengthAdjust="spacingAndGlyphs">inside or near</text>
<text x="993.0" y="747.3" font-size="42" textLength="328.0" lengthAdjust="spacingAndGlyphs">the intermediates</text>
<text x="449.9" y="416.7" font-size="42" textLength="137.0" lengthAdjust="spacingAndGlyphs">Critical</text>
<text x="450.9" y="462.4" font-size="42" textLength="128.2" lengthAdjust="spacingAndGlyphs">cluster</text>
<text x="569.6" y="840.7" font-size="42" textLength="157.5" lengthAdjust="spacingAndGlyphs">Solution</text>
<text x="473.8" y="1016.2" font-size="42" textLength="156.2" lengthAdjust="spacingAndGlyphs">Ostwald</text>
<text x="474.4" y="1062.9" font-size="42" textLength="155.7" lengthAdjust="spacingAndGlyphs">ripening</text>
<text x="456.6" y="1398.0" font-size="42" textLength="180.4" lengthAdjust="spacingAndGlyphs">Monomer</text>
<text x="456.4" y="1444.1" font-size="42" textLength="215.2" lengthAdjust="spacingAndGlyphs">attachment</text>
<text x="923.4" y="1039.6" font-size="42" textLength="370.5" lengthAdjust="spacingAndGlyphs">Crystal aggregation</text>
<text x="923.4" y="1220.5" font-size="42" textLength="390.4" lengthAdjust="spacingAndGlyphs">Oriented attachment</text>
<text x="925.4" y="1377.3" font-size="42" textLength="265.7" lengthAdjust="spacingAndGlyphs">Attachment of</text>
<text x="923.1" y="1424.2" font-size="42" textLength="362.6" lengthAdjust="spacingAndGlyphs">metastable species</text>
<text x="379.0" y="382.5" font-size="40" font-style="italic" textLength="29.0" lengthAdjust="spacingAndGlyphs">r*</text>
</svg>
</body></html>
